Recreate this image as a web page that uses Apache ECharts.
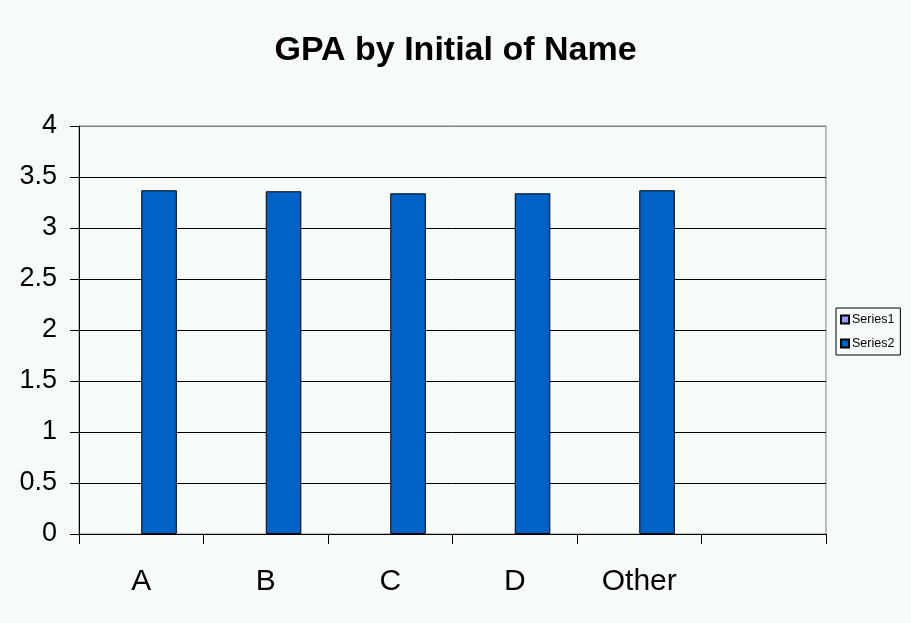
<!DOCTYPE html>
<html>
<head>
<meta charset="utf-8">
<script src="https://cdn.jsdelivr.net/npm/echarts@6/dist/echarts.min.js"></script>
<style>
html,body{margin:0;padding:0;background:#f7fbf7;}
#chart{width:911px;height:623px;}
</style>
</head>
<body>
<div id="chart"></div>
<script>
const categories = ['A', 'B', 'C', 'D', 'Other', ''];
const series1Values = [null, null, null, null, null, null];
const series2Values = [3.37, 3.36, 3.34, 3.34, 3.37, null];
const yTicks = { min: 0, max: 4, interval: 0.5 };

const font = 'Arial, "Liberation Sans", sans-serif';
const chart = echarts.init(document.getElementById('chart'));
const splitColors = [];
for (let i = 0; i < 8; i++) splitColors.push('#000000');
splitColors.push('#808080');

chart.setOption({
  backgroundColor: '#f7fbf7',
  animation: false,
  title: {
    text: 'GPA by Initial of Name',
    left: 'center',
    top: 29,
    textStyle: { fontFamily: font, fontSize: 34, fontWeight: 'bold', color: '#000' }
  },
  legend: {
    orient: 'vertical',
    left: 836,
    top: 308,
    padding: [5, 6, 5, 4],
    itemGap: 11,
    itemWidth: 8,
    itemHeight: 8,
    borderColor: '#000',
    borderWidth: 1,
    icon: 'rect',
    textStyle: { fontFamily: font, fontSize: 12.5, color: '#000', padding: [0, 0, 0, -2] },
    data: ['Series1', 'Series2']
  },
  grid: {
    left: 79, right: 85, top: 126, bottom: 89,
    show: true, borderColor: '#808080', borderWidth: 1, backgroundColor: '#f7fbf7'
  },
  xAxis: {
    type: 'category',
    data: categories,
    boundaryGap: true,
    axisLine: { lineStyle: { color: '#000', width: 1 } },
    axisTick: { show: true, interval: 0, length: 10, lineStyle: { color: '#000' } },
    axisLabel: { interval: 0, fontFamily: font, fontSize: 30, color: '#000', margin: 33 },
    splitLine: { show: false }
  },
  yAxis: {
    type: 'value',
    min: yTicks.min, max: yTicks.max, interval: yTicks.interval,
    axisLine: { show: true, lineStyle: { color: '#000', width: 1 } },
    axisTick: { show: true, length: 9, lineStyle: { color: '#000' } },
    axisLabel: { fontFamily: font, fontSize: 27, color: '#000', margin: 22 },
    splitLine: { show: true, lineStyle: { color: splitColors, width: 1 } }
  },
  series: [
    {
      name: 'Series1', type: 'bar', data: series1Values,
      barGap: '0%', barCategoryGap: '42.857%',
      itemStyle: { color: '#9999ff', borderColor: '#000', borderWidth: 1 }
    },
    {
      name: 'Series2', type: 'bar', data: series2Values,
      barGap: '0%', barCategoryGap: '42.857%',
      itemStyle: { color: '#0062c6', borderColor: '#000', borderWidth: 1 }
    }
  ]
});
</script>
</body>
</html>
